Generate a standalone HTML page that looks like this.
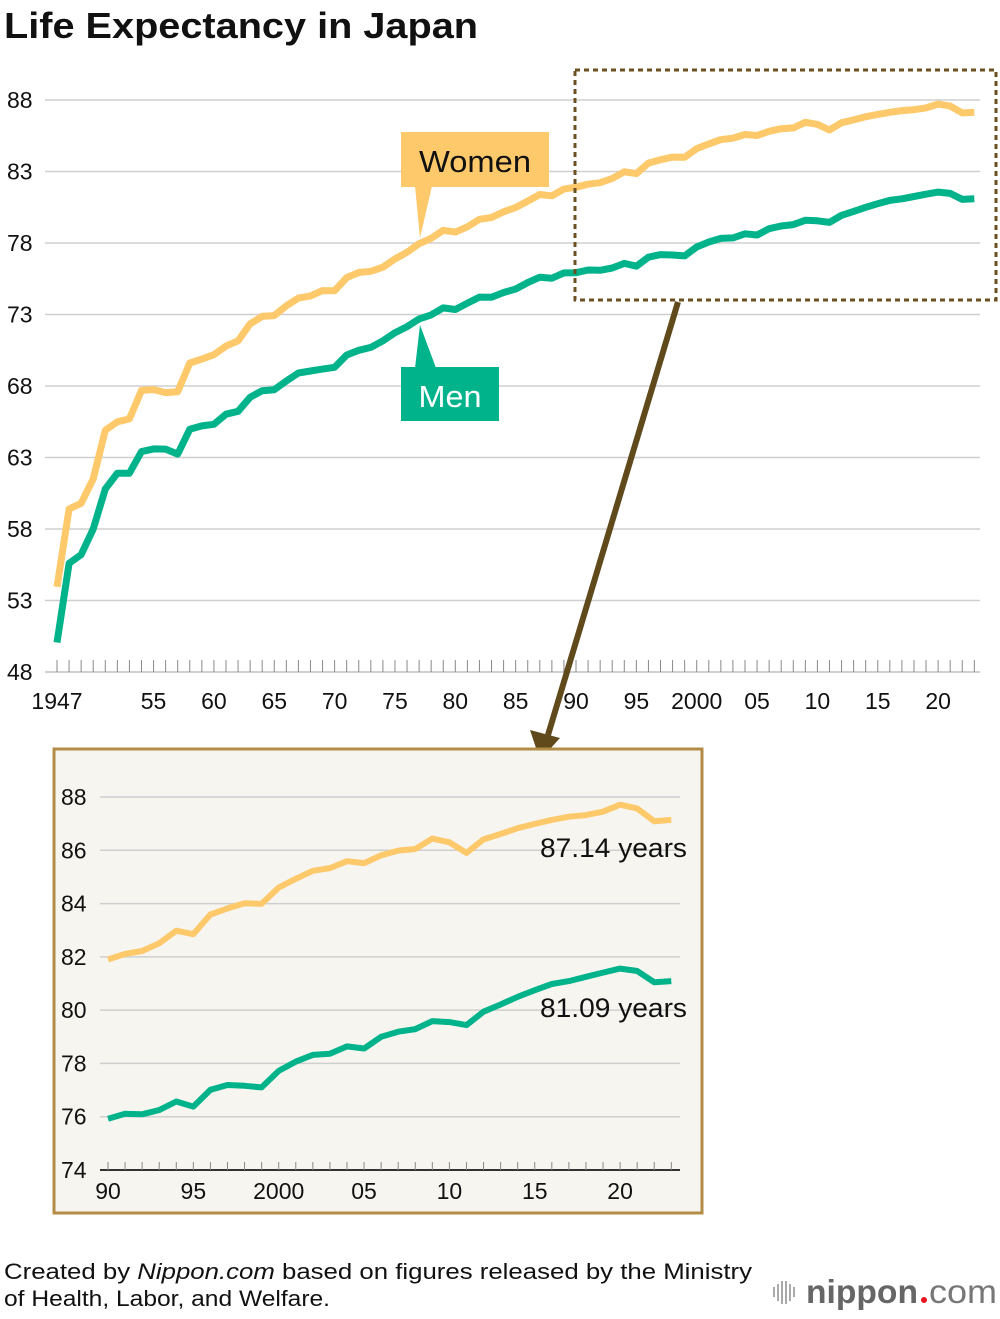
<!DOCTYPE html>
<html><head><meta charset="utf-8"><style>
body{margin:0;background:#fff;font-family:"Liberation Sans",sans-serif;}
svg text{font-family:"Liberation Sans",sans-serif;}
</style></head><body>
<svg id="c" width="1000" height="1314" xmlns="http://www.w3.org/2000/svg">
<text x="4" y="38" font-size="36" font-weight="bold" fill="#111" textLength="474" lengthAdjust="spacingAndGlyphs">Life Expectancy in Japan</text>
<g id="main"></g>
<rect x="575" y="70" width="421" height="230" fill="none" stroke="#6b5021" stroke-width="3" stroke-dasharray="5,4"/>
<line x1="678" y1="302" x2="548" y2="735" stroke="#604a1c" stroke-width="6"/>
<polygon points="530,730 560,738 540,760" fill="#604a1c"/>
<g>
<polygon points="415,186 432,186 420,238" fill="#fdc96b"/>
<rect x="401" y="132" width="148" height="55" fill="#fdc96b"/>
<text x="475" y="172" font-size="31" text-anchor="middle" fill="#111" textLength="112" lengthAdjust="spacingAndGlyphs">Women</text>
</g>
<g>
<polygon points="420,325 415,368 436,368" fill="#00b38b"/>
<rect x="401" y="367" width="98" height="54" fill="#00b38b"/>
<text x="450" y="407" font-size="31" text-anchor="middle" fill="#fff" textLength="63" lengthAdjust="spacingAndGlyphs">Men</text>
</g>
<rect x="54" y="749" width="648" height="464" fill="#f6f5f0" stroke="#b38c47" stroke-width="3"/>
<g id="inset"></g>
<text x="4" y="1279" font-size="22" fill="#111" textLength="748" lengthAdjust="spacingAndGlyphs">Created by <tspan font-style="italic">Nippon.com</tspan> based on figures released by the Ministry</text>
<text x="4" y="1306" font-size="22" fill="#111" textLength="326" lengthAdjust="spacingAndGlyphs">of Health, Labor, and Welfare.</text>
<g>
<g stroke="#aaa" stroke-width="2"><line x1="774" y1="1287" x2="774" y2="1297"/><line x1="778" y1="1284" x2="778" y2="1301"/><line x1="782" y1="1281" x2="782" y2="1304"/><line x1="786" y1="1281" x2="786" y2="1304"/><line x1="790" y1="1284" x2="790" y2="1301"/><line x1="794" y1="1287" x2="794" y2="1297"/></g>
<text x="806" y="1303" font-size="33" font-weight="bold" fill="#666" textLength="112" lengthAdjust="spacingAndGlyphs">nippon</text>
<circle cx="924" cy="1300" r="3" fill="#e5141d"/>
<text x="929" y="1303" font-size="33" fill="#777" textLength="68" lengthAdjust="spacingAndGlyphs">com</text>
</g>
</svg>
<script>
const years=[];for(let y=1947;y<=2023;y++)years.push(y);
const men=[50.06,55.6,56.2,58.0,60.8,61.9,61.9,63.41,63.60,63.59,63.24,64.98,65.21,65.32,66.03,66.23,67.21,67.67,67.74,68.35,68.91,69.05,69.18,69.31,70.17,70.50,70.70,71.16,71.73,72.15,72.69,72.97,73.46,73.35,73.79,74.22,74.20,74.54,74.78,75.23,75.61,75.54,75.91,75.92,76.11,76.09,76.25,76.57,76.38,77.01,77.19,77.16,77.10,77.72,78.07,78.32,78.36,78.64,78.56,79.00,79.19,79.29,79.59,79.55,79.44,79.94,80.21,80.50,80.75,80.98,81.09,81.25,81.41,81.56,81.47,81.05,81.09];
const women=[53.96,59.4,59.8,61.5,64.9,65.5,65.7,67.69,67.75,67.54,67.60,69.61,69.88,70.19,70.79,71.16,72.34,72.87,72.92,73.61,74.15,74.30,74.67,74.66,75.58,75.94,76.02,76.31,76.89,77.35,77.95,78.33,78.89,78.76,79.13,79.66,79.78,80.18,80.48,80.93,81.39,81.30,81.77,81.90,82.11,82.22,82.51,82.98,82.85,83.59,83.82,84.01,83.99,84.60,84.93,85.23,85.33,85.59,85.52,85.81,85.99,86.05,86.44,86.30,85.90,86.41,86.61,86.83,86.99,87.14,87.26,87.32,87.45,87.71,87.57,87.09,87.14];
const mainYTicks=[48,53,58,63,68,73,78,83,88];
const mainXLabels=[[1947,"1947"],[1955,"55"],[1960,"60"],[1965,"65"],[1970,"70"],[1975,"75"],[1980,"80"],[1985,"85"],[1990,"90"],[1995,"95"],[2000,"2000"],[2005,"05"],[2010,"10"],[2015,"15"],[2020,"20"]];
const insetYTicks=[74,76,78,80,82,84,86,88];
const insetXLabels=[[1990,"90"],[1995,"95"],[2000,"2000"],[2005,"05"],[2010,"10"],[2015,"15"],[2020,"20"]];
const NS="http://www.w3.org/2000/svg";
function mk(p,t,a){const e=document.createElementNS(NS,t);for(const k in a)e.setAttribute(k,a[k]);p.appendChild(e);return e;}
const mx=y=>57+(y-1947)*12.07, my=v=>672-(v-48)*(572/40);
const g=document.getElementById('main');
mainYTicks.forEach(t=>{
 const l=mk(g,'line',{x1:45,x2:980,y1:my(t),y2:my(t),stroke:'#cfcfcf','stroke-width':t===48?2:1.5});
 
 
 const tx=mk(g,'text',{x:7,y:my(t)+8,'font-size':23,fill:'#111'});tx.textContent=t;
 
 
});
years.forEach(y=>{const l=mk(g,'line',{x1:mx(y),x2:mx(y),y1:660,y2:672,stroke:'#888','stroke-width':1});
 
 });
mainXLabels.forEach(([y,s])=>{const t=mk(g,'text',{x:mx(y),y:709,'font-size':23,'text-anchor':'middle',fill:'#111'});t.textContent=s;
 
 });
function line(p,xs,ys,xf,yf,col,w,name){
 const d=xs.map((x,i)=>(i?'L':'M')+xf(x).toFixed(1)+','+yf(ys[i]).toFixed(1)).join('');
 const e=mk(p,'path',{d:d,fill:'none',stroke:col,'stroke-width':w,'stroke-linejoin':'round'});
 
 
}
line(g,years,women,mx,my,'#fdc96b',7,'women-line');
line(g,years,men,mx,my,'#00b38b',7,'men-line');
const ix=y=>108+(y-1990)*17.07, iy=v=>1170-(v-74)*(373/14);
const h=document.getElementById('inset');
insetYTicks.forEach(t=>{
 if(t>74){const l=mk(h,'line',{x1:100,x2:680,y1:iy(t),y2:iy(t),stroke:'#cfcfcf','stroke-width':1.5});
 
 }
 const tx=mk(h,'text',{x:61,y:iy(t)+8,'font-size':23,fill:'#111'});tx.textContent=t;
 
 
});
const ax=mk(h,'line',{x1:100,x2:680,y1:1170,y2:1170,stroke:'#333','stroke-width':2});


years.filter(y=>y>=1990).forEach(y=>{const l=mk(h,'line',{x1:ix(y),x2:ix(y),y1:1162,y2:1170,stroke:'#888'});
 
 });
insetXLabels.forEach(([y,s])=>{const t=mk(h,'text',{x:ix(y),y:1199,'font-size':23,'text-anchor':'middle',fill:'#111'});t.textContent=s;
 
 });
const iyrs=years.filter(y=>y>=1990), off=1990-1947;
line(h,iyrs,women.slice(off),ix,iy,'#fdc96b',6,'inset-women-line');
line(h,iyrs,men.slice(off),ix,iy,'#00b38b',6,'inset-men-line');
const a1=mk(h,'text',{x:540,y:857,'font-size':27,fill:'#111',textLength:147,lengthAdjust:'spacingAndGlyphs'});a1.textContent=women[women.length-1]+' years';


const a2=mk(h,'text',{x:540,y:1017,'font-size':27,fill:'#111',textLength:147,lengthAdjust:'spacingAndGlyphs'});a2.textContent=men[men.length-1]+' years';


</script>
</body></html>
